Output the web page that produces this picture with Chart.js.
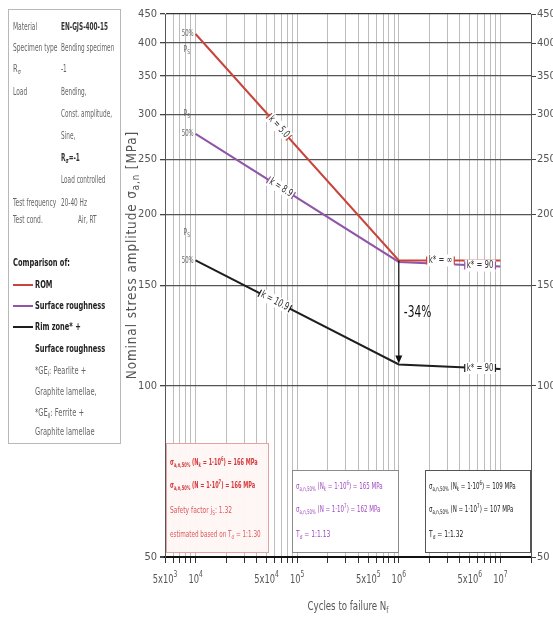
<!DOCTYPE html>
<html>
<head>
<meta charset="utf-8">
<script src="https://cdn.jsdelivr.net/npm/chart.js@4/dist/chart.umd.min.js"></script>
<style>
  html, body { margin: 0; padding: 0; background: #fff; }
  #wrap { width: 553px; height: 617px; }
</style>
</head>
<body>
<div id="wrap"><canvas id="sn" width="553" height="617"></canvas></div>
<script>
// S-N curves, 50% survival probability
const cycles = [1e4, 1e6, 1e7];
const romStress = [415, 166, 166];      // ROM
const roughStress = [277, 165, 162];    // surface roughness
const rimStress = [166, 109, 107];      // rim zone + surface roughness

const slopeLabels = ['k = 5.0', 'k = 8.9', 'k = 10.9'];
const kneeLabels = ['k* = ∞', 'k* = 90', 'k* = 90'];
const ratioLabels = ['1:1.30', '1:1.13', '1:1.32'];

const yTickValues = [50, 100, 150, 200, 250, 300, 350, 400, 450];
const xDecades = [1e3, 1e4, 1e5, 1e6, 1e7];
const xMultipliers = [1, 2, 3, 4, 5, 6, 7, 8, 9];
// [value, mantissa text, exponent]
const xTickLabels = [
    [5e3, '5x10', '3'], [1e4, '10', '4'], [5e4, '5x10', '4'], [1e5, '10', '5'],
    [5e5, '5x10', '5'], [1e6, '10', '6'], [5e6, '5x10', '6'], [1e7, '10', '7']
];

const X_MIN = 5000, X_MAX = 2e7;
const RED = '#c8453c';
const PURPLE = '#9055a8';
const BLACK = '#1e1e1e';
const NARROW = "'Liberation Sans Narrow', 'DejaVu Sans Condensed', sans-serif";
const SQ = 0.74;   // horizontal squeeze for the condensed look

const xTickValues = [];
xDecades.forEach(d => xMultipliers.forEach(m => {
    const v = d * m;
    if (v >= X_MIN && v <= X_MAX) xTickValues.push(v);
}));

function toPoints(ys) {
    return cycles.map((c, i) => ({ x: c, y: ys[i] }));
}

// text with sub/superscript parts: [text, 0 normal | 1 sub | 2 sup]
function richWidth(ctx, parts, size, weight, sq = SQ) {
    let w = 0;
    parts.forEach(([t, m]) => {
        ctx.font = `${weight || ''} ${m ? size * 0.72 : size}px ${NARROW}`;
        w += ctx.measureText(t).width;
    });
    return w * sq;
}

function richText(ctx, parts, x, y, size, weight, sq = SQ) {
    ctx.save();
    ctx.translate(x, y);
    ctx.scale(sq, 1);
    ctx.textAlign = 'left';
    let cx = 0;
    parts.forEach(([t, m]) => {
        ctx.font = `${weight || ''} ${m ? size * 0.72 : size}px ${NARROW}`;
        const dy = m === 1 ? size * 0.3 : m === 2 ? -size * 0.4 : 0;
        ctx.fillText(t, cx, dy);
        cx += ctx.measureText(t).width;
    });
    ctx.restore();
    return cx * sq;
}

function labelOnSegment(chart, ys, seg, t, text, color, rotate) {
    const xs = chart.scales.x, ysc = chart.scales.y;
    const x1 = xs.getPixelForValue(cycles[seg]), y1 = ysc.getPixelForValue(ys[seg]);
    const x2 = xs.getPixelForValue(cycles[seg + 1]), y2 = ysc.getPixelForValue(ys[seg + 1]);
    const px = x1 + (x2 - x1) * t, py = y1 + (y2 - y1) * t;
    const ctx = chart.ctx;
    ctx.save();
    ctx.translate(px, py);
    if (rotate) ctx.rotate(Math.atan2(y2 - y1, x2 - x1));
    ctx.textBaseline = 'middle';
    const parts = [[text, 0]];
    const w = richWidth(ctx, parts, 10.5);
    ctx.fillStyle = '#fff';
    ctx.fillRect(-w / 2 - 2, -6, w + 4, 12);
    ctx.strokeStyle = color;
    ctx.lineWidth = 1.2;
    ctx.beginPath();
    ctx.moveTo(-w / 2 - 2, -4); ctx.lineTo(-w / 2 - 2, 4);
    ctx.moveTo(w / 2 + 2, -4); ctx.lineTo(w / 2 + 2, 4);
    ctx.stroke();
    ctx.fillStyle = '#333';
    richText(ctx, parts, -w / 2, 0, 10.5);
    ctx.restore();
}

const annotations = {
    id: 'annotations',
    beforeDatasetsDraw(chart) {
        const ctx = chart.ctx;
        const boxes = [
            { x: 166, y: 443, w: 102, h: 109, border: '#e4a3a3', fill: 'rgba(255,246,246,0.97)' },
            { x: 292, y: 470, w: 106, h: 82, border: '#8a8a8a', fill: '#fff' },
            { x: 425, y: 470, w: 105, h: 82, border: '#555', fill: '#fff' }
        ];
        ctx.save();
        boxes.forEach(b => {
            ctx.fillStyle = b.fill;
            ctx.fillRect(b.x, b.y, b.w, b.h);
            ctx.strokeStyle = b.border;
            ctx.lineWidth = 1;
            ctx.strokeRect(b.x + 0.5, b.y + 0.5, b.w, b.h);
        });
        ctx.textBaseline = 'middle';

        const sigmaLines = (stress, color, x, y0, weight, sq) => {
            ctx.fillStyle = color;
            richText(ctx, [['σ', 0], ['a,n,50%', 1], [' (N', 0], ['k', 1], [' = 1·10', 0], ['6', 2], [`) = ${stress[1]} MPa`, 0]], x, y0, 9, weight, sq);
            richText(ctx, [['σ', 0], ['a,n,50%', 1], [' (N = 1·10', 0], ['7', 2], [`) = ${stress[2]} MPa`, 0]], x, y0 + 23, 9, weight, sq);
        };
        sigmaLines(romStress, '#d43a3a', 170, 463, 'bold', 0.62);
        ctx.fillStyle = '#dd5a5a';
        richText(ctx, [['Safety factor j', 0], ['S', 1], [': 1.32', 0]], 170, 511, 9);
        richText(ctx, [['estimated based on T', 0], ['σ', 1], [` = ${ratioLabels[0]}`, 0]], 170, 535, 9, '', 0.7);

        sigmaLines(roughStress, '#a04cc0', 296, 487, '', 0.68);
        ctx.fillStyle = '#a04cc0';
        richText(ctx, [['T', 0], ['σ', 1], [` = ${ratioLabels[1]}`, 0]], 296, 535, 9);

        sigmaLines(rimStress, '#222', 429, 487, '', 0.68);
        ctx.fillStyle = '#222';
        richText(ctx, [['T', 0], ['σ', 1], [` = ${ratioLabels[2]}`, 0]], 429, 535, 9);
        ctx.restore();
    },
    afterDatasetsDraw(chart) {
        const ctx = chart.ctx;
        const xs = chart.scales.x, ysc = chart.scales.y;

        // slope labels along the lines
        labelOnSegment(chart, romStress, 0, 0.41, slopeLabels[0], RED, true);
        labelOnSegment(chart, roughStress, 0, 0.42, slopeLabels[1], PURPLE, true);
        labelOnSegment(chart, rimStress, 0, 0.39, slopeLabels[2], BLACK, true);
        labelOnSegment(chart, romStress, 1, 0.41, kneeLabels[0], RED, false);
        labelOnSegment(chart, roughStress, 1, 0.8, kneeLabels[1], PURPLE, false);
        labelOnSegment(chart, rimStress, 1, 0.8, kneeLabels[2], BLACK, false);

        // 50% / Ps labels at start of each curve
        ctx.save();
        ctx.fillStyle = '#666';
        ctx.textBaseline = 'middle';
        const starts = [[romStress, 16], [roughStress, -20], [rimStress, -28]];
        starts.forEach(([ys, off]) => {
            const px = xs.getPixelForValue(cycles[0]) - 2;
            const py = ysc.getPixelForValue(ys[0]);
            const pw = richWidth(ctx, [['50%', 0]], 8);
            richText(ctx, [['50%', 0]], px - pw, py, 8);
            richText(ctx, [['P', 0], ['S', 1]], px - 10, py + off, 9);
        });
        ctx.restore();

        // arrow at the knee point
        const ax = xs.getPixelForValue(cycles[1]);
        const ay1 = ysc.getPixelForValue(romStress[1]);
        const ay2 = ysc.getPixelForValue(rimStress[1]);
        ctx.save();
        ctx.strokeStyle = '#111';
        ctx.fillStyle = '#111';
        ctx.lineWidth = 1.2;
        ctx.beginPath();
        ctx.moveTo(ax, ay1);
        ctx.lineTo(ax, ay2 - 8);
        ctx.stroke();
        ctx.beginPath();
        ctx.moveTo(ax - 3.5, ay2 - 9);
        ctx.lineTo(ax + 3.5, ay2 - 9);
        ctx.lineTo(ax, ay2 - 1);
        ctx.closePath();
        ctx.fill();
        const drop = Math.round((1 - rimStress[1] / romStress[1]) * 100);
        ctx.textBaseline = 'middle';
        richText(ctx, [[`-${drop}%`, 0]], ax + 5, (ay1 + ay2) / 2, 16);
        ctx.restore();
    },
    afterDraw(chart) {
        const ctx = chart.ctx;
        const area = chart.chartArea;
        const xs = chart.scales.x;
        ctx.save();
        ctx.fillStyle = '#555';
        ctx.textBaseline = 'middle';

        // x tick labels
        xTickLabels.forEach(([v, base, exp]) => {
            const parts = [[base, 0], [exp, 2]];
            const w = richWidth(ctx, parts, 12.5);
            richText(ctx, parts, xs.getPixelForValue(v) - w / 2, 580, 12.5);
        });

        // axis titles
        const xt = [['Cycles to failure N', 0], ['f', 1]];
        let w = richWidth(ctx, xt, 13);
        richText(ctx, xt, (area.left + area.right) / 2 - w / 2, 607, 13);

        ctx.translate(132, 255);
        ctx.rotate(-Math.PI / 2);
        const yt = [['Nominal stress amplitude σ', 0], ['a,n', 1], [' [MPa]', 0]];
        ctx.letterSpacing = '1px';
        w = richWidth(ctx, yt, 14, '', 0.95);
        richText(ctx, yt, -w / 2, 0, 14, '', 0.95);
        ctx.restore();

        // test description panel
        ctx.save();
        ctx.fillStyle = '#fff';
        ctx.fillRect(8, 9, 112, 434);
        ctx.strokeStyle = '#b8b8b8';
        ctx.lineWidth = 1;
        ctx.strokeRect(8.5, 9.5, 112, 434);
        ctx.textBaseline = 'middle';
        const rows = [
            [27, 'Material', [['EN-GJS-400-15', 0]], 'bold'],
            [48, 'Specimen type', [['Bending specimen', 0]]],
            [69, null, [['-1', 0]]],
            [92, 'Load', [['Bending,', 0]]],
            [114, null, [['Const. amplitude,', 0]]],
            [136, null, [['Sine,', 0]]],
            [158, null, [['R', 0], ['σ', 1], ['=-1', 0]], 'bold'],
            [180, null, [['Load controlled', 0]]],
            [203, 'Test frequency', [['20-40 Hz', 0]]],
            [220, 'Test cond.', [['Air, RT', 0]]]
        ];
        rows.forEach(([y, label, value, weight]) => {
            ctx.fillStyle = '#666';
            if (label) richText(ctx, [[label, 0]], 13, y, 10, '', 0.66);
            ctx.fillStyle = weight ? '#333' : '#666';
            richText(ctx, value, label === 'Test cond.' ? 78 : 61, y, 10, weight, 0.64);
        });
        ctx.fillStyle = '#666';
        richText(ctx, [['R', 0], ['σ', 1]], 13, 69, 10);

        ctx.fillStyle = '#222';
        richText(ctx, [['Comparison of:', 0]], 13, 263, 10, 'bold');
        const legendRows = [[285, RED, 'ROM'], [306, PURPLE, 'Surface roughness'], [327, BLACK, 'Rim zone* +']];
        legendRows.forEach(([y, color, text]) => {
            ctx.strokeStyle = color;
            ctx.lineWidth = 2;
            ctx.beginPath();
            ctx.moveTo(13, y); ctx.lineTo(33, y);
            ctx.stroke();
            ctx.fillStyle = '#222';
            richText(ctx, [[text, 0]], 35, y, 10, 'bold');
        });
        richText(ctx, [['Surface roughness', 0]], 35, 349, 10, 'bold');
        ctx.fillStyle = '#666';
        richText(ctx, [['*GE', 0], ['I', 1], [': Pearlite +', 0]], 35, 371, 10);
        richText(ctx, [['Graphite lamellae,', 0]], 35, 392, 10);
        richText(ctx, [['*GE', 0], ['II', 1], [': Ferrite +', 0]], 35, 413, 10);
        richText(ctx, [['Graphite lamellae', 0]], 35, 432, 10);
        ctx.restore();
    }
};

const yTickFont = { family: NARROW, size: 11 };

new Chart(document.getElementById('sn'), {
    type: 'line',
    data: {
        datasets: [
            { label: 'ROM', data: toPoints(romStress), borderColor: RED, borderWidth: 2 },
            { label: 'Surface roughness', data: toPoints(roughStress), borderColor: PURPLE, borderWidth: 2 },
            { label: 'Rim zone* + Surface roughness', data: toPoints(rimStress), borderColor: BLACK, borderWidth: 2 }
        ]
    },
    options: {
        responsive: false,
        animation: false,
        devicePixelRatio: 1,
        elements: { point: { radius: 0 }, line: { tension: 0 } },
        layout: { padding: { left: 120, top: 14, right: 0, bottom: 0 } },
        plugins: { legend: { display: false }, tooltip: { enabled: false } },
        scales: {
            x: {
                type: 'logarithmic',
                position: 'bottom',
                min: X_MIN,
                max: X_MAX,
                afterBuildTicks: axis => { axis.ticks = xTickValues.map(v => ({ value: v })); },
                afterFit: axis => { axis.height = 60; },
                ticks: { display: false, autoSkip: false, maxRotation: 0 },
                grid: { color: '#bdbdbd', lineWidth: 1, tickLength: 6, tickColor: '#333' },
                border: { color: '#111', width: 2 }
            },
            y: {
                type: 'logarithmic',
                position: 'left',
                min: 50,
                max: 450,
                afterBuildTicks: axis => { axis.ticks = yTickValues.map(v => ({ value: v })); },
                afterFit: axis => { axis.width = 45; },
                ticks: { padding: 3, color: '#555', font: yTickFont, callback: v => String(v) },
                grid: {
                    color: c => c.tick && c.tick.value === 50 ? '#111' : c.tick && c.tick.value === 450 ? '#333' : '#555',
                    lineWidth: c => c.tick && c.tick.value === 50 ? 2 : 1.3,
                    tickLength: 5,
                    tickColor: '#444'
                },
                border: { color: '#555', width: 1 }
            },
            y2: {
                type: 'logarithmic',
                position: 'right',
                min: 50,
                max: 450,
                afterBuildTicks: axis => { axis.ticks = yTickValues.map(v => ({ value: v })); },
                afterFit: axis => { axis.width = 22; },
                ticks: { padding: 1, color: '#555', font: yTickFont, callback: v => String(v) },
                grid: { drawOnChartArea: false, tickLength: 5, tickColor: '#444' },
                border: { color: '#555', width: 1 }
            }
        }
    },
    plugins: [annotations]
});
</script>
</body>
</html>
